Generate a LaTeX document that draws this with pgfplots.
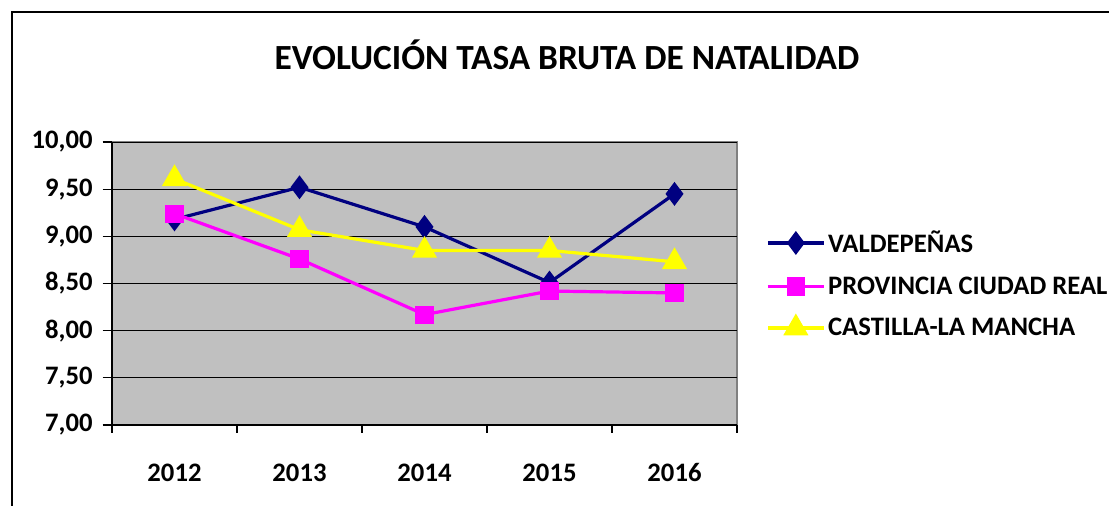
\documentclass[border=0pt]{standalone}
\usepackage{pgfplots}
\pgfplotsset{compat=1.18}
\usepackage{fontspec}
\setmainfont{Carlito}
\definecolor{vald}{HTML}{000080}
\definecolor{prov}{HTML}{FF00FF}
\definecolor{clm}{HTML}{FFFF00}
\definecolor{plotgray}{HTML}{C0C0C0}
\begin{document}
\begin{tikzpicture}
\useasboundingbox (0pt,0pt) rectangle (831.75pt,379.5pt);
\draw[line width=1.5pt] (9pt,-20pt) rectangle (850pt,370.5pt);
\node[font=\bfseries\fontsize{26.5}{30}\selectfont] at (425.25pt,338.25pt) {EVOLUCIÓN TASA BRUTA DE NATALIDAD};
\begin{axis}[
  at={(84pt,60.75pt)}, anchor=south west,
  scale only axis, width=468.75pt, height=212.25pt,
  xmin=-0.5, xmax=4.5, ymin=7, ymax=10,
  axis x line*=bottom, axis y line*=left,
  axis line style={black, line width=0.8pt, -},
  axis background/.style={fill=plotgray, draw=gray, line width=0.8pt},
  xtick={0,1,2,3,4},
  xticklabels={2012,2013,2014,2015,2016},
  major x tick style={draw=none},
  extra x ticks={-0.5,0.5,1.5,2.5,3.5,4.5},
  extra x tick labels={},
  extra x tick style={major tick length=6pt, tick align=outside, major x tick style={draw=black, line width=0.8pt}, xmajorgrids=false},
  ytick={7,7.5,8,8.5,9,9.5,10},
  ymajorgrids,
  grid style={black, line width=0.7pt},
  tick align=outside,
  major y tick style={black, line width=0.8pt},
  major tick length=7pt,
  /pgf/number format/assume math mode=true,
  /pgf/number format/fixed,
  /pgf/number format/fixed zerofill,
  /pgf/number format/precision=2,
  /pgf/number format/use comma,
  yticklabel style={font=\bfseries\fontsize{20}{24}\selectfont, xshift=-4pt},
  xticklabel style={font=\bfseries\fontsize{20}{24}\selectfont, yshift=-18pt, text height=14pt, text depth=0pt},
  legend style={at={(1.04,0.705)}, anchor=north west, draw=none, fill=none,
    font=\bfseries\fontsize{20}{24}\selectfont, row sep=12.5pt},
  legend cell align=left,
  legend image code/.code={\draw[mark repeat=2,mark phase=2] plot coordinates {(0pt,0pt) (21pt,0pt) (42pt,0pt)};},
]
\addplot[vald, line width=2.4pt, mark=diamond*, mark size=7pt, mark options={solid, fill=vald}]
  coordinates {(0,9.18) (1,9.52) (2,9.10) (3,8.51) (4,9.45)};
\addlegendentry{VALDEPEÑAS}
\addplot[prov, line width=2.4pt, mark=square*, mark size=5.6pt, mark options={solid, fill=prov}]
  coordinates {(0,9.24) (1,8.76) (2,8.17) (3,8.42) (4,8.40)};
\addlegendentry{PROVINCIA CIUDAD REAL}
\addplot[clm, line width=2.4pt, mark=triangle*, mark size=8.5pt, mark options={solid, fill=clm}]
  coordinates {(0,9.61) (1,9.07) (2,8.85) (3,8.85) (4,8.73)};
\addlegendentry{CASTILLA-LA MANCHA}
\end{axis}
\end{tikzpicture}
\end{document}
